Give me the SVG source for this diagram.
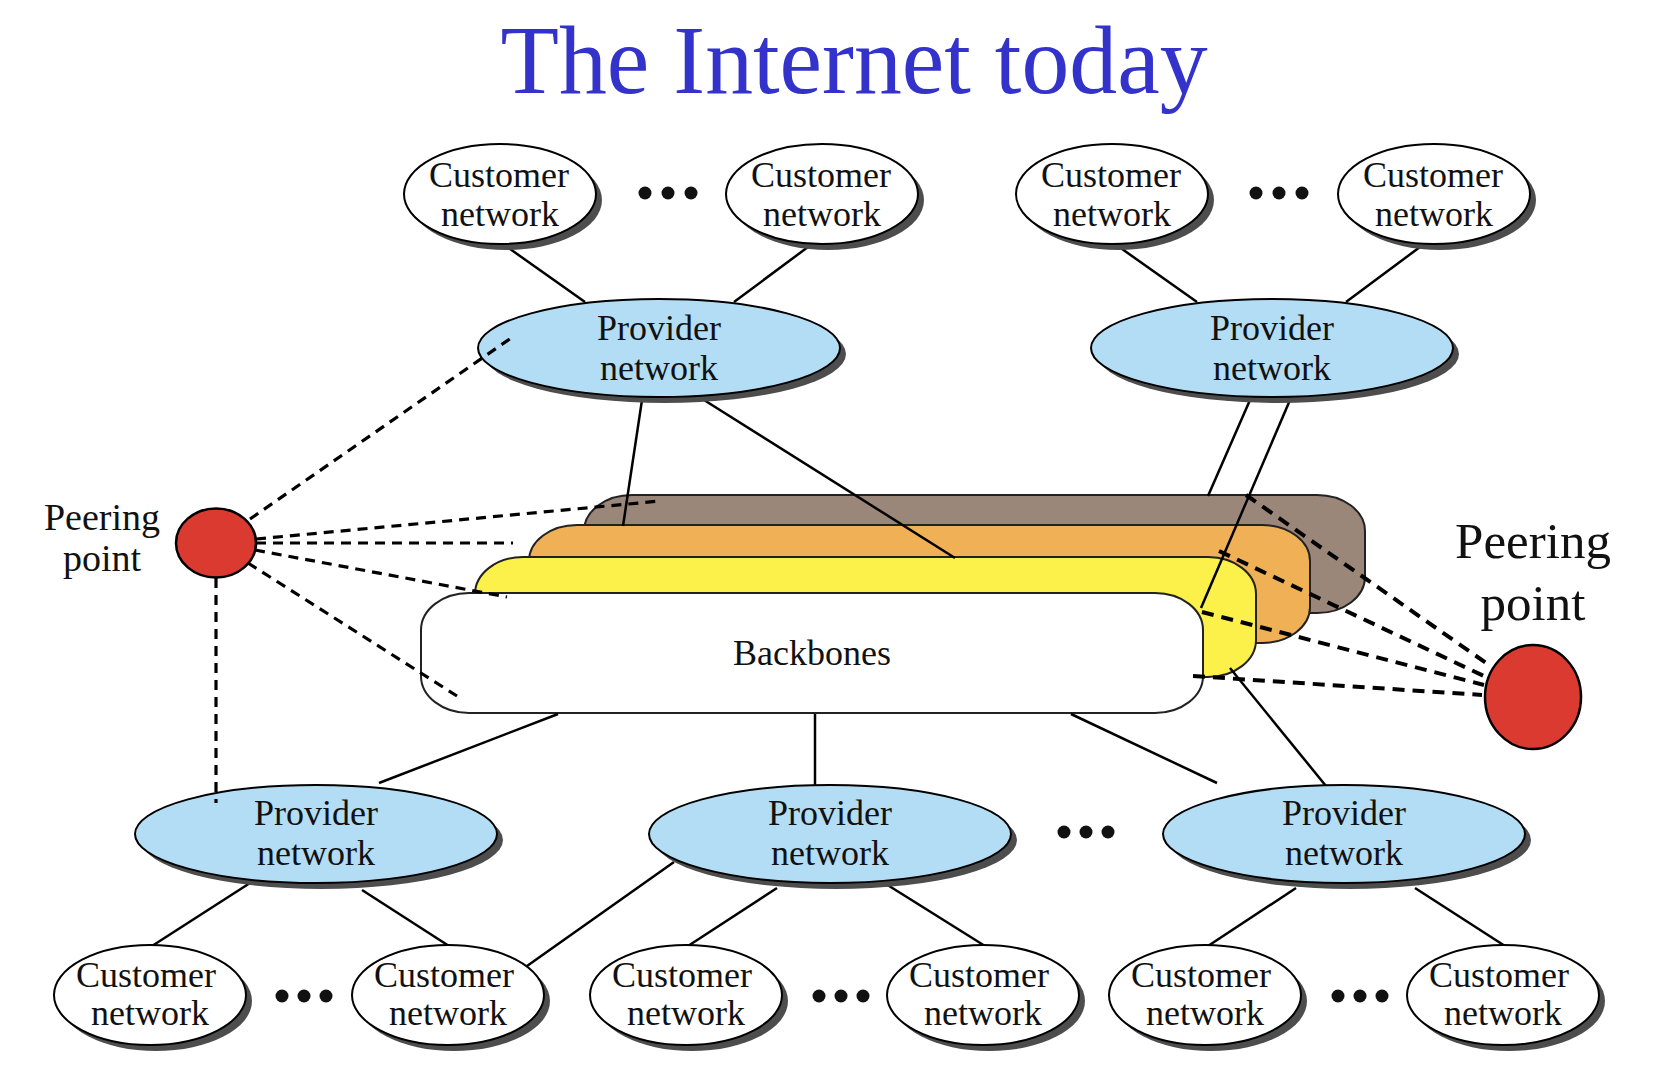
<svg xmlns="http://www.w3.org/2000/svg" width="1654" height="1090" viewBox="0 0 1654 1090">
<style>
.cust{fill:#fff;stroke:#000;stroke-width:2}
.prov{fill:#B3DDF5;stroke:#000;stroke-width:2}
.sh{fill:#4d4d4d}
.bb{stroke:#222;stroke-width:2}
.lbl{font-family:"Liberation Serif","Times New Roman",serif;font-size:36px;text-anchor:middle;fill:#111}
.link{stroke:#000;stroke-width:2.5;fill:none}
.dash{stroke:#000;stroke-width:3.2;stroke-dasharray:10 7;fill:none}
.dashR{stroke:#000;stroke-width:4;stroke-dasharray:12 8;fill:none}
.dot{fill:#111}
.peer{fill:#DB3A31;stroke:#000;stroke-width:2.5}
</style>

<text x="854" y="93" font-family="'Liberation Serif','Times New Roman',serif" font-size="98" fill="#3333CC" text-anchor="middle" textLength="707" lengthAdjust="spacingAndGlyphs">The Internet today</text>

<!-- Backbones -->
<g id="backbones">
  <rect class="bb" x="584" y="495" width="781" height="118" rx="48" ry="36" fill="#9B877A"/>
  <rect class="bb" x="529" y="525" width="781" height="118" rx="48" ry="36" fill="#F0B055"/>
  <rect class="bb" x="475" y="557" width="781" height="120" rx="48" ry="37" fill="#FCF04B"/>
  <rect class="bb" x="421" y="593" width="782" height="120" rx="48" ry="37" fill="#fff"/>
  <text class="lbl" x="812" y="665">Backbones</text>
</g>

<!-- Solid connectors -->
<g id="connectors">
  <line class="link" x1="503" y1="244" x2="585" y2="302"/>
  <line class="link" x1="812" y1="244" x2="734" y2="302"/>
  <line class="link" x1="1115" y1="244" x2="1197" y2="302"/>
  <line class="link" x1="1424" y1="244" x2="1346" y2="302"/>
  <line class="link" x1="642" y1="400" x2="623" y2="526"/>
  <line class="link" x1="704" y1="400" x2="955" y2="558"/>
  <line class="link" x1="1250" y1="400" x2="1208" y2="496"/>
  <line class="link" x1="1290" y1="400" x2="1201" y2="608"/>
  <line class="link" x1="558" y1="714" x2="379" y2="783"/>
  <line class="link" x1="815" y1="714" x2="815" y2="786"/>
  <line class="link" x1="1071" y1="714" x2="1217" y2="783"/>
  <line class="link" x1="1230" y1="668" x2="1326" y2="786"/>
  <line class="link" x1="250" y1="883" x2="152" y2="946"/>
  <line class="link" x1="362" y1="890" x2="449" y2="946"/>
  <line class="link" x1="674" y1="862" x2="527" y2="966"/>
  <line class="link" x1="777" y1="888" x2="688" y2="946"/>
  <line class="link" x1="886" y1="884" x2="985" y2="946"/>
  <line class="link" x1="1296" y1="888" x2="1208" y2="946"/>
  <line class="link" x1="1415" y1="888" x2="1505" y2="946"/>
</g>

<!-- Top customers -->
<g id="cust-t1"><ellipse class="sh" cx="506" cy="200" rx="96" ry="50"/><ellipse class="cust" cx="500" cy="194" rx="96" ry="50"/><text class="lbl" x="499" y="187">Customer</text><text class="lbl" x="500" y="226">network</text></g>
<g id="cust-t2"><ellipse class="sh" cx="828" cy="200" rx="96" ry="50"/><ellipse class="cust" cx="822" cy="194" rx="96" ry="50"/><text class="lbl" x="821" y="187">Customer</text><text class="lbl" x="822" y="226">network</text></g>
<g id="cust-t3"><ellipse class="sh" cx="1118" cy="200" rx="96" ry="50"/><ellipse class="cust" cx="1112" cy="194" rx="96" ry="50"/><text class="lbl" x="1111" y="187">Customer</text><text class="lbl" x="1112" y="226">network</text></g>
<g id="cust-t4"><ellipse class="sh" cx="1440" cy="200" rx="96" ry="50"/><ellipse class="cust" cx="1434" cy="194" rx="96" ry="50"/><text class="lbl" x="1433" y="187">Customer</text><text class="lbl" x="1434" y="226">network</text></g>
<g id="dots-t1"><circle class="dot" cx="645" cy="193" r="6.5"/><circle class="dot" cx="668" cy="193" r="6.5"/><circle class="dot" cx="691" cy="193" r="6.5"/></g>
<g id="dots-t2"><circle class="dot" cx="1256" cy="193" r="6.5"/><circle class="dot" cx="1279" cy="193" r="6.5"/><circle class="dot" cx="1302" cy="193" r="6.5"/></g>

<!-- Top providers -->
<g id="prov-t1"><ellipse class="sh" cx="665" cy="354" rx="181" ry="49"/><ellipse class="prov" cx="659" cy="348" rx="181" ry="49"/><text class="lbl" x="659" y="340">Provider</text><text class="lbl" x="659" y="380">network</text></g>
<g id="prov-t2"><ellipse class="sh" cx="1278" cy="354" rx="181" ry="49"/><ellipse class="prov" cx="1272" cy="348" rx="181" ry="49"/><text class="lbl" x="1272" y="340">Provider</text><text class="lbl" x="1272" y="380">network</text></g>

<!-- Bottom providers -->
<g id="prov-b1"><ellipse class="sh" cx="322" cy="840" rx="181" ry="49"/><ellipse class="prov" cx="316" cy="834" rx="181" ry="49"/><text class="lbl" x="316" y="825">Provider</text><text class="lbl" x="316" y="865">network</text></g>
<g id="prov-b2"><ellipse class="sh" cx="836" cy="840" rx="181" ry="49"/><ellipse class="prov" cx="830" cy="834" rx="181" ry="49"/><text class="lbl" x="830" y="825">Provider</text><text class="lbl" x="830" y="865">network</text></g>
<g id="prov-b3"><ellipse class="sh" cx="1350" cy="840" rx="181" ry="49"/><ellipse class="prov" cx="1344" cy="834" rx="181" ry="49"/><text class="lbl" x="1344" y="825">Provider</text><text class="lbl" x="1344" y="865">network</text></g>
<g id="dots-mid"><circle class="dot" cx="1064" cy="832" r="6.5"/><circle class="dot" cx="1086" cy="832" r="6.5"/><circle class="dot" cx="1108" cy="832" r="6.5"/></g>

<!-- Bottom customers -->
<g id="cust-b1"><ellipse class="sh" cx="156" cy="1001" rx="96" ry="50"/><ellipse class="cust" cx="150" cy="995" rx="96" ry="50"/><text class="lbl" x="146" y="987">Customer</text><text class="lbl" x="150" y="1025">network</text></g>
<g id="cust-b2"><ellipse class="sh" cx="454" cy="1001" rx="96" ry="50"/><ellipse class="cust" cx="448" cy="995" rx="96" ry="50"/><text class="lbl" x="444" y="987">Customer</text><text class="lbl" x="448" y="1025">network</text></g>
<g id="cust-b3"><ellipse class="sh" cx="692" cy="1001" rx="96" ry="50"/><ellipse class="cust" cx="686" cy="995" rx="96" ry="50"/><text class="lbl" x="682" y="987">Customer</text><text class="lbl" x="686" y="1025">network</text></g>
<g id="cust-b4"><ellipse class="sh" cx="989" cy="1001" rx="96" ry="50"/><ellipse class="cust" cx="983" cy="995" rx="96" ry="50"/><text class="lbl" x="979" y="987">Customer</text><text class="lbl" x="983" y="1025">network</text></g>
<g id="cust-b5"><ellipse class="sh" cx="1211" cy="1001" rx="96" ry="50"/><ellipse class="cust" cx="1205" cy="995" rx="96" ry="50"/><text class="lbl" x="1201" y="987">Customer</text><text class="lbl" x="1205" y="1025">network</text></g>
<g id="cust-b6"><ellipse class="sh" cx="1509" cy="1001" rx="96" ry="50"/><ellipse class="cust" cx="1503" cy="995" rx="96" ry="50"/><text class="lbl" x="1499" y="987">Customer</text><text class="lbl" x="1503" y="1025">network</text></g>
<g id="dots-b1"><circle class="dot" cx="282" cy="996" r="6.5"/><circle class="dot" cx="304" cy="996" r="6.5"/><circle class="dot" cx="326" cy="996" r="6.5"/></g>
<g id="dots-b2"><circle class="dot" cx="819" cy="996" r="6.5"/><circle class="dot" cx="841" cy="996" r="6.5"/><circle class="dot" cx="863" cy="996" r="6.5"/></g>
<g id="dots-b3"><circle class="dot" cx="1338" cy="996" r="6.5"/><circle class="dot" cx="1360" cy="996" r="6.5"/><circle class="dot" cx="1382" cy="996" r="6.5"/></g>

<!-- Peering points -->
<g id="peer-left">
  <ellipse class="peer" cx="216" cy="543" rx="40" ry="34.5"/>
  <text font-family="'Liberation Serif','Times New Roman',serif" font-size="38" text-anchor="middle" fill="#111" x="102" y="530">Peering</text>
  <text font-family="'Liberation Serif','Times New Roman',serif" font-size="38" text-anchor="middle" fill="#111" x="102" y="571">point</text>
</g>
<g id="peer-right">
  <ellipse class="peer" cx="1533" cy="697" rx="48" ry="52"/>
  <text font-family="'Liberation Serif','Times New Roman',serif" font-size="51" text-anchor="middle" fill="#111" x="1533" y="558">Peering</text>
  <text font-family="'Liberation Serif','Times New Roman',serif" font-size="51" text-anchor="middle" fill="#111" x="1533" y="620">point</text>
</g>

<!-- Peering (dashed) connectors -->
<g id="peering-links">
  <line class="dash" x1="250" y1="519" x2="514" y2="336"/>
  <line class="dash" x1="256" y1="539" x2="660" y2="501"/>
  <line class="dash" x1="256" y1="543" x2="513" y2="543"/>
  <line class="dash" x1="255" y1="550" x2="507" y2="597"/>
  <line class="dash" x1="248" y1="563" x2="457" y2="696"/>
  <line class="dash" x1="216" y1="578" x2="216" y2="803" stroke-width="3.5" stroke-dasharray="9 7"/>
  <line class="dashR" x1="1246" y1="495" x2="1489" y2="665"/>
  <line class="dashR" x1="1219" y1="551" x2="1486" y2="677"/>
  <line class="dashR" x1="1202" y1="612" x2="1484" y2="685"/>
  <line class="dashR" x1="1193" y1="676" x2="1482" y2="695"/>
</g>
</svg>
